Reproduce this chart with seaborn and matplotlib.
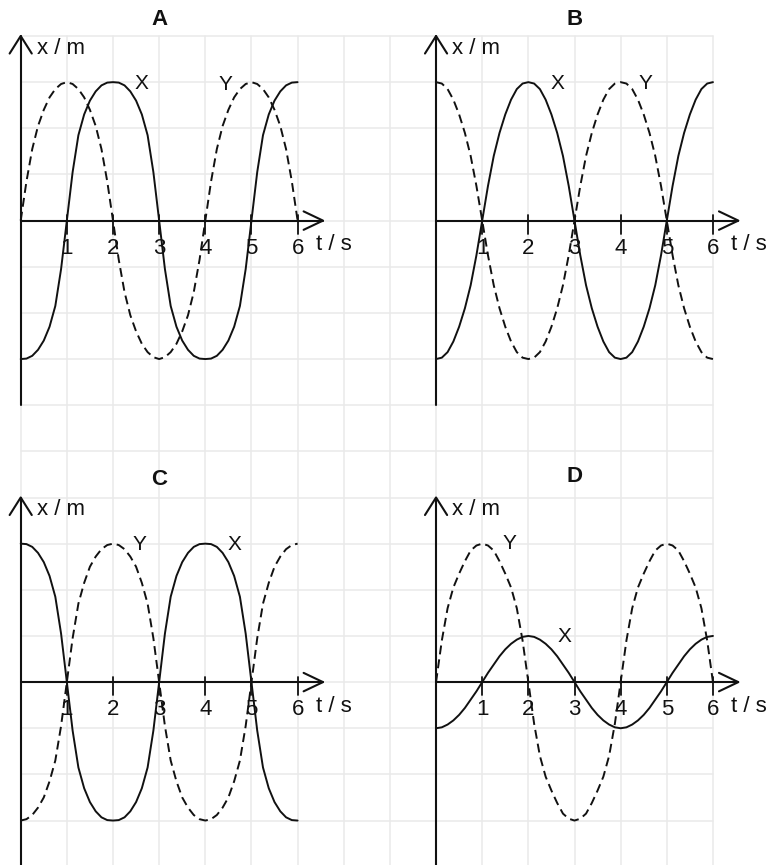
import matplotlib
matplotlib.use("Agg")
import matplotlib.pyplot as plt
import seaborn as sns

sns.set_style("white")
plt.rcParams['font.family'] = ['Liberation Sans', 'DejaVu Sans']

# sampling times (s) and displacements (m)
t = [0, 0.125, 0.25, 0.375, 0.5, 0.625, 0.75, 0.875,
     1, 1.125, 1.25, 1.375, 1.5, 1.625, 1.75, 1.875,
     2, 2.125, 2.25, 2.375, 2.5, 2.625, 2.75, 2.875,
     3, 3.125, 3.25, 3.375, 3.5, 3.625, 3.75, 3.875,
     4, 4.125, 4.25, 4.375, 4.5, 4.625, 4.75, 4.875,
     5, 5.125, 5.25, 5.375, 5.5, 5.625, 5.75, 5.875, 6]

a_x = [-3, -2.99, -2.93, -2.8, -2.6, -2.3, -1.85, -1.05,
       0, 1.05, 1.85, 2.3, 2.6, 2.8, 2.93, 2.99,
       3, 2.99, 2.93, 2.8, 2.6, 2.3, 1.85, 1.05,
       0, -1.05, -1.85, -2.3, -2.6, -2.8, -2.93, -2.99,
       -3, -2.99, -2.93, -2.8, -2.6, -2.3, -1.85, -1.05,
       0, 1.05, 1.85, 2.3, 2.6, 2.8, 2.93, 2.99, 3]
a_y = [0, 0.85, 1.55, 2.05, 2.4, 2.67, 2.85, 2.96,
       3, 2.96, 2.85, 2.67, 2.4, 2.05, 1.55, 0.85,
       0, -0.85, -1.55, -2.05, -2.4, -2.67, -2.85, -2.96,
       -3, -2.96, -2.85, -2.67, -2.4, -2.05, -1.55, -0.85,
       0, 0.85, 1.55, 2.05, 2.4, 2.67, 2.85, 2.96,
       3, 2.96, 2.85, 2.67, 2.4, 2.05, 1.55, 0.85, 0]

b_x = [-3, -2.97, -2.85, -2.62, -2.3, -1.9, -1.4, -0.75,
       0, 0.75, 1.4, 1.9, 2.3, 2.62, 2.85, 2.97,
       3, 2.97, 2.85, 2.62, 2.3, 1.9, 1.4, 0.75,
       0, -0.75, -1.4, -1.9, -2.3, -2.62, -2.85, -2.97,
       -3, -2.97, -2.85, -2.62, -2.3, -1.9, -1.4, -0.75,
       0, 0.75, 1.4, 1.9, 2.3, 2.62, 2.85, 2.97, 3]
b_y = [3, 2.97, 2.85, 2.62, 2.3, 1.9, 1.4, 0.75,
       0, -0.75, -1.4, -1.9, -2.3, -2.62, -2.85, -2.97,
       -3, -2.97, -2.85, -2.62, -2.3, -1.9, -1.4, -0.75,
       0, 0.75, 1.4, 1.9, 2.3, 2.62, 2.85, 2.97,
       3, 2.97, 2.85, 2.62, 2.3, 1.9, 1.4, 0.75,
       0, -0.75, -1.4, -1.9, -2.3, -2.62, -2.85, -2.97, -3]

c_x = [3, 2.99, 2.93, 2.8, 2.6, 2.3, 1.85, 1.05,
       0, -1.05, -1.85, -2.3, -2.6, -2.8, -2.93, -2.99,
       -3, -2.99, -2.93, -2.8, -2.6, -2.3, -1.85, -1.05,
       0, 1.05, 1.85, 2.3, 2.6, 2.8, 2.93, 2.99,
       3, 2.99, 2.93, 2.8, 2.6, 2.3, 1.85, 1.05,
       0, -1.05, -1.85, -2.3, -2.6, -2.8, -2.93, -2.99, -3]
c_y = [-3, -2.97, -2.88, -2.72, -2.5, -2.15, -1.7, -0.95,
       0, 0.95, 1.7, 2.15, 2.5, 2.72, 2.88, 2.97,
       3, 2.97, 2.88, 2.72, 2.5, 2.15, 1.7, 0.95,
       0, -0.95, -1.7, -2.15, -2.5, -2.72, -2.88, -2.97,
       -3, -2.97, -2.88, -2.72, -2.5, -2.15, -1.7, -0.95,
       0, 0.95, 1.7, 2.15, 2.5, 2.72, 2.88, 2.97, 3]

d_x = [-1, -0.98, -0.92, -0.83, -0.71, -0.56, -0.38, -0.2,
       0, 0.2, 0.38, 0.56, 0.71, 0.83, 0.92, 0.98,
       1, 0.98, 0.92, 0.83, 0.71, 0.56, 0.38, 0.2,
       0, -0.2, -0.38, -0.56, -0.71, -0.83, -0.92, -0.98,
       -1, -0.98, -0.92, -0.83, -0.71, -0.56, -0.38, -0.2,
       0, 0.2, 0.38, 0.56, 0.71, 0.83, 0.92, 0.98, 1]
d_y = [0, 0.9, 1.6, 2.05, 2.35, 2.62, 2.85, 2.96,
       3, 2.96, 2.85, 2.62, 2.35, 2.05, 1.6, 0.9,
       0, -0.9, -1.6, -2.05, -2.35, -2.62, -2.85, -2.96,
       -3, -2.96, -2.85, -2.62, -2.35, -2.05, -1.6, -0.9,
       0, 0.9, 1.6, 2.05, 2.35, 2.62, 2.85, 2.96,
       3, 2.96, 2.85, 2.62, 2.35, 2.05, 1.6, 0.9, 0]

tick_labels = ['1', '2', '3', '4', '5', '6']
panel_names = ['A', 'B', 'C', 'D']

# label positions (t, x) for the curve names
x_label_pos = [(2.62, 2.97), (2.64, 2.97), (4.64, 2.99), (2.78, 0.99)]
y_label_pos = [(4.43, 2.95), (4.53, 2.97), (2.58, 2.99), (1.60, 3.0)]
title_y = [4.36, 4.36, 4.38, 4.46]

W, H = 772, 865
u = 46.15          # px per grid square
gx0, gy0 = 20.7, 36
origins = [(0, 4), (9, 4), (0, 14), (9, 14)]   # (column, row) of each panel origin

fig = plt.figure(figsize=(W / 100, H / 100), dpi=100)

# background grid paper
gax = fig.add_axes([gx0 / W, 0, 15 * u / W, (H - gy0) / H])
gax.set_xlim(0, 15)
gax.set_ylim((H - gy0) / u, 0)
gax.set_xticks(range(16))
gax.set_yticks(range(18))
gax.grid(True, color='#e9e9e9', lw=1.1)
gax.tick_params(length=0, labelbottom=False, labelleft=False)
for s in gax.spines.values():
    s.set_visible(False)
for gl in gax.xaxis.get_gridlines() + gax.yaxis.get_gridlines():
    gl.set_clip_on(False)

xmin, xmax, ymin, ymax = -0.45, 7.3, -4.3, 4.7
curves = [(a_x, a_y), (b_x, b_y), (c_x, c_y), (d_x, d_y)]
k = '#111111'

for i, (col, row) in enumerate(origins):
    ox = gx0 + col * u
    oy = gy0 + row * u
    left = ox + xmin * u
    bottom = oy - ymin * u
    ax = fig.add_axes([left / W, 1 - bottom / H, (xmax - xmin) * u / W,
                       (ymax - ymin) * u / H])
    ax.set_xlim(xmin, xmax)
    ax.set_ylim(ymin, ymax)
    ax.axis('off')
    ax.patch.set_alpha(0)

    # axes with open arrow heads
    ax.plot([0, 6.55], [0, 0], color=k, lw=1.5, clip_on=False)
    ax.plot([6.13, 6.55, 6.13], [0.2, 0, -0.2], color=k, lw=1.5, clip_on=False)
    ax.plot([0, 0], [-4, 4], color=k, lw=1.5, clip_on=False)
    ax.plot([-0.24, 0, 0.24], [3.62, 4, 3.62], color=k, lw=1.5, clip_on=False)
    for j, lab in enumerate(tick_labels):
        ax.plot([j + 1, j + 1], [0.12, -0.28], color=k, lw=1.3)
        ax.text(j + 1, -0.6, lab, ha='center', va='center', fontsize=16, color=k)
    ax.text(0.35, 3.73, 'x / m', ha='left', va='center', fontsize=16, color=k)
    ax.text(6.4, -0.52, 't / s', ha='left', va='center', fontsize=16, color=k)
    ax.text(3.0, title_y[i], panel_names[i], ha='center', va='center',
            fontsize=16, fontweight='bold', color=k)

    xs, ys = curves[i]
    sns.lineplot(x=t, y=xs, ax=ax, color=k, lw=1.4, clip_on=False,
                 solid_joinstyle='round')
    sns.lineplot(x=t, y=ys, ax=ax, color=k, lw=1.4, linestyle=(0, (4.6, 2.6)),
                 dash_joinstyle='round', clip_on=False)
    ax.text(*x_label_pos[i], 'X', ha='center', va='center', fontsize=15, color=k)
    ax.text(*y_label_pos[i], 'Y', ha='center', va='center', fontsize=15, color=k)

fig.savefig('out.png', dpi=100)
